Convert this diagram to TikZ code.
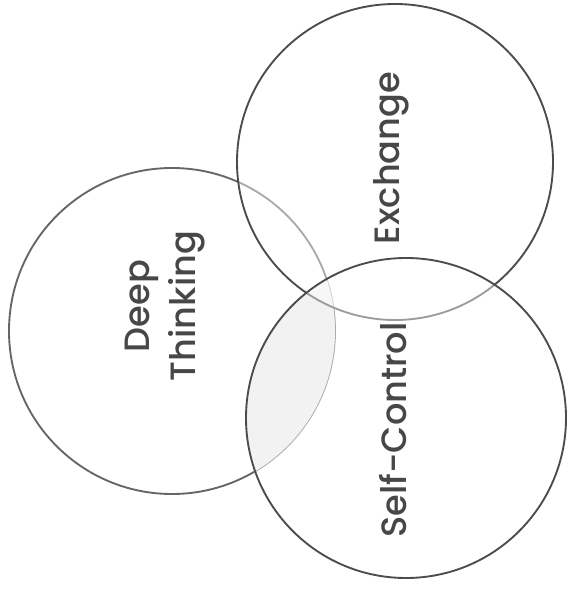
\documentclass[tikz,border=0pt]{standalone}
\usepackage{fontspec}
\setmainfont{Poppins}
\newfontfamily\labelfont{Poppins Medium}
\tikzset{
	ring/.style={circle, draw=black!70, line width=1.6pt, inner sep=0pt},
	word/.style={rotate=90, text=black!72, font=\labelfont\fontsize{30}{40}\selectfont, align=center}
}
\begin{document}
\begin{tikzpicture}[x=0.03cm,y=-0.03cm]
	\useasboundingbox (0,0) rectangle (568,594);
	%first circle
		\node[ring, draw=black!60, minimum size=326*0.03cm] (deep) at (172,331) {};
	%shaded overlap
		\begin{scope}
			\clip (172,331) circle[radius=4.89cm];
			\fill[black!9] (406,418) circle[radius=4.8cm];
		\end{scope}
	%the two other circles
		\node[ring, fill=white, fill opacity=0.45, minimum size=316*0.03cm] (exchange) at (395,162) {};
		\node[ring, fill=white, fill opacity=0.45, minimum size=320*0.03cm] (selfcontrol) at (406,418) {};
	%labels
		\node[word] (deeptext) at (165,306) {Deep\\Thinking};
		\node[word] (exchangetext) at (391,158) {Exchange};
		\node[word] (selfcontroltext) at (393,430) {Self-Control};
\end{tikzpicture}
\end{document}
